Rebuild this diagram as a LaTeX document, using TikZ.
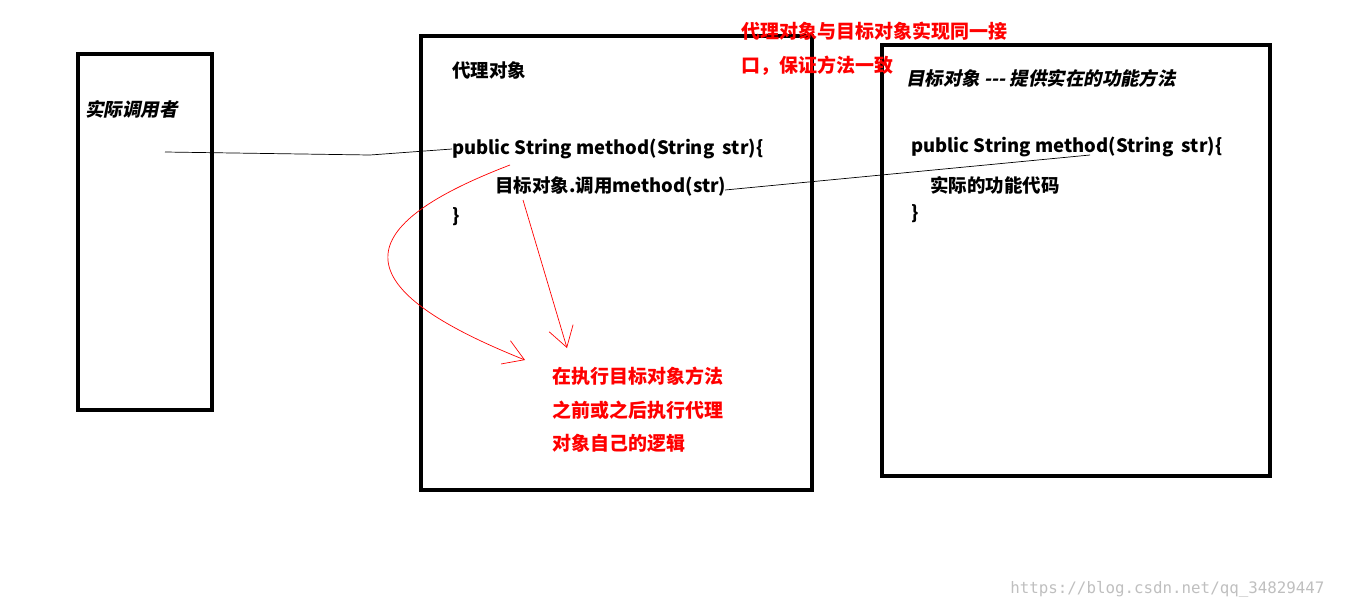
\documentclass[tikz,border=0pt]{standalone}
\usepackage{fontspec}
\setmainfont{Noto Sans CJK SC}
\newfontfamily\slantcjk[FakeSlant=0.2]{Noto Sans CJK SC}
\setmonofont{DejaVu Sans Mono}
\usepackage{tikz}
\usetikzlibrary{arrows.meta}
\tikzset{box/.style={draw,line width=2.3pt},
  code/.style={anchor=west,inner sep=0pt,font=\bfseries\fontsize{10.5}{12}\selectfont},
  slanted/.style={code,font=\slantcjk\bfseries\fontsize{10.5}{12}\selectfont},
  note/.style={anchor=west,inner sep=0pt,text=red,font=\bfseries\fontsize{10.8}{12}\selectfont},
  redarrow/.style={draw=red,thin,-{Straight Barb[length=4mm,width=5mm]}}}
\begin{document}
\begin{tikzpicture}[x=0.02cm,y=-0.02cm]
  \useasboundingbox (0,0) rectangle (1350,609);
  \draw[box] (78,54)   rectangle (212,410);
  \draw[box] (421,36)  rectangle (812,490);
  \draw[box] (882,45)  rectangle (1270,476);

  \node[slanted] at (85,109) (caller) {实际调用者};
  \node[code] at (452,70)  (ptitle) {代理对象};
  \node[code] at (452,149) (psig) {public String method(String \ str)\{};
  \node[code] at (495,186) (pcall) {目标对象.调用method(str)};
  \node[code] at (452,217) (pend) {\}};
  \node[slanted] at (906,78) (ttitle) {目标对象 {-}{-}{-} 提供实在的功能方法};
  \node[code] at (911,147) (tsig) {public String method(String \ str)\{};
  \node[code] at (930,185) (tbody) {实际的功能代码};
  \node[code] at (911,214) (tend) {\}};

  \node[note] at (741,31) (top1) {代理对象与目标对象实现同一接};
  \node[note] at (741,66) (top2) {口，保证方法一致};
  \node[note] at (552,376) (low1) {在执行目标对象方法};
  \node[note] at (552,410) (low2) {之前或之后执行代理};
  \node[note] at (552,443) (low3) {对象自己的逻辑};

  \coordinate (cstart) at (165,152);
  \coordinate (cend) at (725,190);
  \coordinate (tend2) at (1090,155);
  \draw[thin] (cstart) -- (370,155) -- (psig.west);
  \draw[thin] (cend) -- (tend2);

  \draw[redarrow] (510,165) .. controls (340,230) and (350,290) .. (525,360);
  \draw[redarrow] (523,200) -- (567,348);

  \node[anchor=west,inner sep=0pt,text=black!25,font=\ttfamily\fontsize{9}{10}\selectfont] at (1010,589) (mark) {https://blog.csdn.net/qq\_34829447};
\end{tikzpicture}
\end{document}
